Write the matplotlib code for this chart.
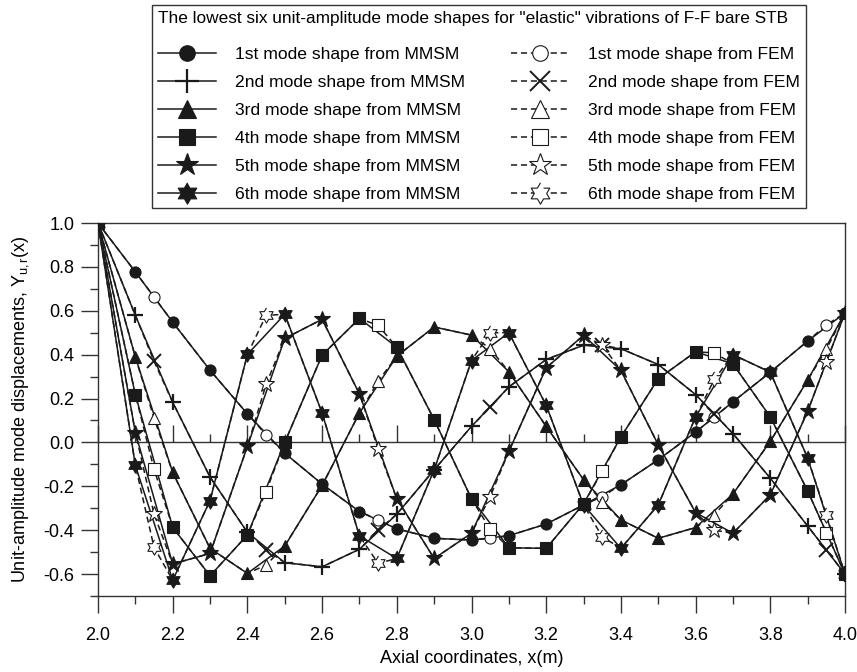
import numpy as np
import matplotlib
matplotlib.use("Agg")
import matplotlib.pyplot as plt
from matplotlib.ticker import MultipleLocator, FormatStrFormatter

plt.rcParams.update({
    "font.family": ["Liberation Sans", "DejaVu Sans"],
    "font.size": 12,
    "axes.unicode_minus": False,
    "mathtext.fontset": "custom",
    "mathtext.rm": "Liberation Sans",
    "mathtext.it": "Liberation Sans:italic",
})

# ── data ────────────────────────────────────────────────────────────────────
X_MMSM = [2.0, 2.1, 2.2, 2.3, 2.4, 2.5, 2.6, 2.7, 2.8, 2.9, 3.0,
          3.1, 3.2, 3.3, 3.4, 3.5, 3.6, 3.7, 3.8, 3.9, 4.0]

MMSM_1 = [1.0, 0.777, 0.548, 0.329, 0.13, -0.049, -0.19, -0.315, -0.394, -0.437, -0.445,
          -0.425, -0.372, -0.285, -0.193, -0.079, 0.047, 0.185, 0.32, 0.462, 0.59]
MMSM_2 = [1.0, 0.579, 0.183, -0.158, -0.41, -0.548, -0.567, -0.487, -0.327, -0.125, 0.073,
          0.253, 0.378, 0.443, 0.427, 0.355, 0.218, 0.04, -0.163, -0.381, -0.60]
MMSM_3 = [1.0, 0.389, -0.137, -0.483, -0.597, -0.472, -0.196, 0.134, 0.393, 0.526, 0.489,
          0.322, 0.073, -0.17, -0.353, -0.437, -0.388, -0.235, 0.005, 0.284, 0.59]
MMSM_4 = [1.0, 0.218, -0.387, -0.608, -0.422, 0.0, 0.398, 0.565, 0.434, 0.104, -0.257,
          -0.48, -0.483, -0.28, 0.025, 0.29, 0.413, 0.358, 0.116, -0.221, -0.60]
MMSM_5 = [1.0, 0.045, -0.554, -0.506, -0.018, 0.474, 0.561, 0.221, -0.257, -0.529, -0.414,
          -0.041, 0.34, 0.488, 0.328, -0.011, -0.32, -0.414, -0.239, 0.142, 0.59]
MMSM_6 = [1.0, -0.105, -0.628, -0.265, 0.401, 0.584, 0.134, -0.426, -0.529, -0.125, 0.373,
          0.5, 0.169, -0.285, -0.483, -0.285, 0.116, 0.40, 0.32, -0.071, -0.60]

X_FEM = [2.0, 2.15, 2.45, 2.75, 3.05, 3.35, 3.65, 3.95, 4.0]
FEM_1 = [1.0, 0.663, 0.035, -0.353, -0.437, -0.247, 0.116, 0.535, 0.59]
FEM_2 = [1.0, 0.37, -0.49, -0.40, 0.16, 0.443, 0.13, -0.49, -0.60]
FEM_3 = [1.0, 0.111, -0.559, 0.279, 0.427, -0.27, -0.33, 0.424, 0.59]
FEM_4 = [1.0, -0.122, -0.224, 0.533, -0.396, -0.132, 0.408, -0.411, -0.60]
FEM_5 = [1.0, -0.326, 0.264, -0.029, -0.247, 0.443, -0.40, 0.366, 0.59]
FEM_6 = [1.0, -0.478, 0.579, -0.551, 0.50, -0.43, 0.287, -0.33, -0.60]

ORDINALS = ["1st", "2nd", "3rd", "4th", "5th", "6th"]
LEGEND_TITLE = 'The lowest six unit-amplitude mode shapes for "elastic" vibrations of F-F bare STB'

# ── markers ─────────────────────────────────────────────────────────────────
ang = np.pi / 2 + np.arange(12) * np.pi / 6
rad = np.where(np.arange(12) % 2 == 0, 1.0, 0.58)
HEXAGRAM = list(zip(rad * np.cos(ang), rad * np.sin(ang)))

MARKERS = ["o", "+", "^", "s", "*", HEXAGRAM]
FEM_MARKERS = ["o", "x", "^", "s", "*", HEXAGRAM]
SIZES = [8, 12, 9, 8.5, 12, 11]
FEM_SIZES = [8, 10, 9, 8.5, 12, 11]

INK = "#1a1a1a"


def fem_curve(mmsm, fem):
    xs = np.concatenate([X_MMSM, X_FEM[1:-1]])
    ys = np.concatenate([mmsm, fem[1:-1]])
    order = np.argsort(xs, kind="stable")
    xs, ys = xs[order], ys[order]
    marks = [i for i, x in enumerate(xs) if any(abs(x - f) < 1e-9 for f in X_FEM[1:-1])]
    return xs, ys, marks


fig = plt.figure(figsize=(8.57, 6.72), dpi=100)
ax = fig.add_axes([98 / 857, 1 - 596 / 672, 747 / 857, 373 / 672])

mmsm_sets = [MMSM_1, MMSM_2, MMSM_3, MMSM_4, MMSM_5, MMSM_6]
fem_sets = [FEM_1, FEM_2, FEM_3, FEM_4, FEM_5, FEM_6]

h_mmsm, h_fem = [], []
for i in range(6):
    ln, = ax.plot(X_MMSM, mmsm_sets[i], color=INK, lw=1.1,
                  marker=MARKERS[i], ms=SIZES[i], mfc=INK, mec=INK,
                  mew=1.6 if MARKERS[i] == "+" else 0.8,
                  label=f"{ORDINALS[i]} mode shape from MMSM", zorder=3)
    h_mmsm.append(ln)
for i in range(6):
    xs, ys, marks = fem_curve(mmsm_sets[i], fem_sets[i])
    ln, = ax.plot(xs, ys, color=INK, lw=1.1, ls=(0, (4, 2.5)),
                  marker=FEM_MARKERS[i], markevery=marks, ms=FEM_SIZES[i],
                  mfc="white", mec=INK,
                  mew=1.4 if FEM_MARKERS[i] == "x" else 0.8,
                  label=f"{ORDINALS[i]} mode shape from FEM", zorder=4)
    h_fem.append(ln)

ax.set_xlim(2.0, 4.0)
ax.set_ylim(-0.7, 1.0)
ax.xaxis.set_major_locator(MultipleLocator(0.2))
ax.xaxis.set_minor_locator(MultipleLocator(0.1))
ax.yaxis.set_major_locator(MultipleLocator(0.2))
ax.yaxis.set_minor_locator(MultipleLocator(0.1))
ax.xaxis.set_major_formatter(FormatStrFormatter("%.1f"))
ax.yaxis.set_major_formatter(FormatStrFormatter("%.1f"))
ax.tick_params(which="both", direction="out", top=False, right=False,
               color="#333333", width=1.0, labelsize=13)
ax.tick_params(which="major", length=12)
ax.tick_params(which="minor", length=5.5)
ax.tick_params(axis="x", pad=10.5)
ax.tick_params(axis="y", pad=5)
for sp in ax.spines.values():
    sp.set_color("#333333")
    sp.set_linewidth(1.0)

# zero line carrying upward ticks
zero = ax.secondary_xaxis(0, transform=ax.transData)
zero.xaxis.set_major_locator(MultipleLocator(0.2))
zero.xaxis.set_minor_locator(MultipleLocator(0.1))
zero.tick_params(which="both", direction="in", labelbottom=False, color="#333333", width=1.0)
zero.tick_params(which="major", length=12)
zero.tick_params(which="minor", length=5.5)
zero.spines["bottom"].set_color("#333333")
zero.spines["bottom"].set_linewidth(1.0)

ax.set_xlabel("Axial coordinates, x(m)", fontsize=13, labelpad=4)
ax.set_ylabel(r"Unit-amplitude mode displacements, Y$_\mathrm{u,r}$(x)", fontsize=13, labelpad=9)

leg = fig.legend(h_mmsm + h_fem, [h.get_label() for h in h_mmsm + h_fem],
                 ncol=2, loc="upper left", mode="expand", borderaxespad=0,
                 bbox_to_anchor=(152 / 857, 1 - 12 / 672, 654 / 857, 0.01),
                 title=LEGEND_TITLE, title_fontsize=12.45, alignment="left",
                 fancybox=False, edgecolor="#333333", framealpha=1,
                 handlelength=3.3, handletextpad=1.1, columnspacing=2.0,
                 labelspacing=0.72, borderpad=0.35, markerscale=1.4, fontsize=12.6)
leg.get_frame().set_linewidth(1.0)
leg._legend_box.sep = 15

fig.savefig("out.png", dpi=100)
